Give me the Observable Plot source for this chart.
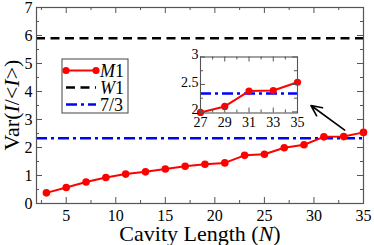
<!DOCTYPE html>
<html><head><meta charset="utf-8">
<script src="https://cdn.jsdelivr.net/npm/d3@7"></script>
<script src="https://cdn.jsdelivr.net/npm/@observablehq/plot@0.6"></script>
<style>
body{margin:0;background:#fff}
#chart{position:relative;width:374px;height:245px}
</style>
</head><body><div id="chart"></div>
<script>
// ---- data ----
const cavityLength = [3,5,7,9,11,13,15,17,19,21,23,25,27,29,31,33,35];
const m1Var = [0.38,0.57,0.77,0.93,1.05,1.13,1.23,1.33,1.40,1.45,1.72,1.76,1.99,2.10,2.38,2.39,2.54];
const w1Var = 5.9;
const refVar = 7/3;
const xTicks = [5,10,15,20,25,30,35];
const xMinorTicks = [2.5,7.5,12.5,17.5,22.5,27.5,32.5];
const yTicks = [0,1,2,3,4,5,6,7];
const yMinorTicks = [0.5,1.5,2.5,3.5,4.5,5.5,6.5];
const insetXTicks = [27,29,31,33,35];
const insetXMinorTicks = [28,30,32,34];
const insetYTicks = [2,2.5,3];
const insetYMinorTicks = [2.25,2.75];
const legendLabels = ["M1","W1","7/3"];
const arrowTail = [33.1, 2.62];
const arrowHead = [29.7, 3.5];

const data = cavityLength.map((n,i)=>({n, v: m1Var[i]}));
const insetData = data.filter(d => d.n >= 27);

const FONT = "Liberation Serif, Times New Roman, serif";
const axisColor = "#555";
const red = "#ff0000", blue = "#0000ff";

function boxTicks(innerW, innerH, xs, ys, len){
  return [
    Plot.ruleX(xs, {insetTop: innerH - len, stroke: axisColor}),
    Plot.ruleX(xs, {insetBottom: innerH - len, stroke: axisColor}),
    Plot.ruleY(ys, {insetRight: innerW - len, stroke: axisColor}),
    Plot.ruleY(ys, {insetLeft: innerW - len, stroke: axisColor})
  ];
}

// ---- main plot ----
const W = 374, H = 245, mt = 7, mb = 42, ml = 36, mr = 11;
const iW = W - ml - mr, iH = H - mt - mb;

const main = Plot.plot({
  width: W, height: H,
  marginTop: mt, marginBottom: mb, marginLeft: ml, marginRight: mr,
  style: {fontFamily: FONT, fontSize: "16px", color: "black", background: "white", overflow: "visible"},
  x: {domain: [2, 35]},
  y: {domain: [0, 7]},
  marks: [
    Plot.ruleY([w1Var], {stroke: "black", strokeWidth: 2.5, strokeDasharray: "9,5.5"}),
    Plot.ruleY([refVar], {stroke: blue, strokeWidth: 2.5, strokeDasharray: "11,4,3,4"}),
    Plot.line(data, {x: "n", y: "v", stroke: red, strokeWidth: 2}),
    Plot.dot(data, {x: "n", y: "v", r: 3.8, fill: red}),
    Plot.arrow([{x1: arrowTail[0], y1: arrowTail[1], x2: arrowHead[0], y2: arrowHead[1]}],
      {x1: "x1", y1: "y1", x2: "x2", y2: "y2", stroke: "black", strokeWidth: 1.6, headLength: 11, headAngle: 50}),
    Plot.frame({stroke: axisColor, strokeWidth: 1.2}),
    ...boxTicks(iW, iH, xTicks, yTicks, 6),
    ...boxTicks(iW, iH, xMinorTicks, yMinorTicks, 3),
    Plot.axisX(xTicks, {tickSize: 0, tickPadding: 6, label: null, fontSize: 16, fontFamily: FONT}),
    Plot.axisY(yTicks, {tickSize: 0, tickPadding: 4, label: null, fontSize: 16, fontFamily: FONT, dy: 0.5})
  ]
});
document.getElementById("chart").appendChild(main);

// ---- inset plot ----
const IW = 140, IH = 92, iml = 30, imr = 13, imt = 11, imb = 25;
const inset = Plot.plot({
  width: IW, height: IH,
  marginTop: imt, marginBottom: imb, marginLeft: iml, marginRight: imr,
  style: {fontFamily: FONT, fontSize: "13px", color: "black", overflow: "visible", background: "none"},
  x: {domain: [27, 35]},
  y: {domain: [1.98, 3]},
  marks: [
    Plot.frame({fill: "white"}),
    Plot.ruleY([refVar], {stroke: blue, strokeWidth: 2.5, strokeDasharray: "11,4,3,4"}),
    Plot.line(insetData, {x: "n", y: "v", stroke: red, strokeWidth: 2}),
    Plot.dot(insetData, {x: "n", y: "v", r: 3.6, fill: red}),
    Plot.frame({stroke: axisColor, strokeWidth: 1.1}),
    ...boxTicks(IW - iml - imr, IH - imt - imb, insetXTicks, insetYTicks, 5),
    ...boxTicks(IW - iml - imr, IH - imt - imb, insetXMinorTicks, insetYMinorTicks, 3),
    Plot.axisX(insetXTicks, {tickSize: 0, tickPadding: 4, label: null, fontSize: 14, fontFamily: FONT}),
    Plot.axisY(insetYTicks, {tickSize: 0, tickPadding: 2, label: null, fontSize: 14, fontFamily: FONT, dy: -2, tickFormat: d => String(d)})
  ]
});
inset.setAttribute("x", 170);
inset.setAttribute("y", 45.5);
inset.style.width = IW + "px";
inset.style.height = IH + "px";
inset.style.maxWidth = "none";
inset.style.overflow = "visible";
main.appendChild(inset);

const svg = d3.select(main);

// ---- axis labels (rich text with italics) ----
const xl = svg.append("text").attr("x", 200).attr("y", 240.5).attr("text-anchor", "middle")
  .attr("font-family", FONT).attr("font-size", 22).attr("fill", "black");
xl.append("tspan").text("Cavity Length (");
xl.append("tspan").attr("font-style", "italic").text("N");
xl.append("tspan").text(")");

const yl = svg.append("text").attr("transform", "translate(19,105) rotate(-90)").attr("text-anchor", "middle")
  .attr("font-family", FONT).attr("font-size", 22).attr("fill", "black");
yl.append("tspan").text("Var(");
yl.append("tspan").attr("font-style", "italic").text("I");
yl.append("tspan").text("/<");
yl.append("tspan").attr("font-style", "italic").text("I");
yl.append("tspan").text(">)");

// ---- legend ----
const lg = svg.append("g").attr("font-family", FONT).attr("font-size", 18).attr("text-anchor", "start");
lg.append("rect").attr("x", 62).attr("y", 59).attr("width", 66).attr("height", 54)
  .attr("fill", "white").attr("stroke", axisColor).attr("stroke-width", 1.1);
const rows = [70.5, 87.5, 104.5];
const styles = [
  {stroke: red, dash: null},
  {stroke: "black", dash: "9,5.5"},
  {stroke: blue, dash: "11,4,3,4"}
];
rows.forEach((yy, i) => {
  lg.append("line").attr("x1", 66).attr("x2", 96).attr("y1", yy).attr("y2", yy)
    .attr("stroke", styles[i].stroke).attr("stroke-width", i ? 2.5 : 2)
    .attr("stroke-dasharray", styles[i].dash);
  if (i === 0) {
    [66, 96].forEach(cx => lg.append("circle").attr("cx", cx).attr("cy", yy).attr("r", 3.6).attr("fill", red));
  }
  const t = lg.append("text").attr("x", 100).attr("y", yy + 6).attr("fill", "black").attr("text-anchor", "start");
  const lab = legendLabels[i];
  if (i < 2) {
    t.append("tspan").attr("font-style", "italic").text(lab[0]);
    t.append("tspan").text(lab.slice(1));
  } else {
    t.text(lab);
  }
});
</script>
</body></html>
